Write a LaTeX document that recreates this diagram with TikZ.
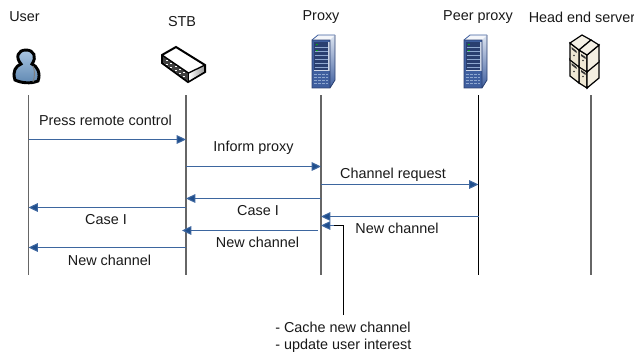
\documentclass[tikz,border=0pt]{standalone}
\usepackage{fontspec}
\setmainfont{Liberation Sans}
\usetikzlibrary{arrows.meta}
\definecolor{arrowblue}{HTML}{3D669F}
\definecolor{headblue}{HTML}{1F4E8C}
\definecolor{srvblue}{HTML}{3F5F9F}
\definecolor{srvdark}{HTML}{2A3F70}
\definecolor{srvlight}{HTML}{8FA8D0}
\definecolor{usrblue}{HTML}{6F9FD0}
\definecolor{beige}{HTML}{EFE8D4}
\tikzset{
  lab/.style={font=\fontsize{10.8pt}{13pt}\selectfont,inner sep=0pt,text=black!90},
  life/.style={draw=black!60,line width=0.85pt},
  lifeb/.style={draw=black,line width=0.75pt},
  msg/.style={draw=arrowblue,line width=0.8pt,-{Triangle[length=7pt,width=6.5pt,fill=headblue]}},
}
\newcommand{\srv}[2]{%
 \begin{scope}[shift={(#1,#2)}]
  \fill[white!90!srvlight] (1,6) -- (7,1) -- (24,1) -- (19,6) -- cycle;
  \draw[srvblue,line width=.6pt] (1,6) -- (7,1) -- (24,1);
  \shade[top color=white!70!srvlight,bottom color=srvblue] (19,6) -- (24,1) -- (24,46) -- (19,54) -- cycle;
  \fill[srvblue] (1,6) rectangle (19,54);
  \fill[srvdark] (3,8) rectangle (17,36);
  \foreach \yy in {13,17,21,25,29,33} \draw[srvlight,line width=.6pt] (3.5,\yy) -- (16.5,\yy);
  \fill[green!70!black] (5,10) rectangle (6.5,11.2) (5,16) rectangle (6.5,17.2);
  \draw[white!75!srvblue,line width=.8pt] (3,36.5) -- (18,36.5) (18,8) -- (18,36.5);
  \foreach \yy in {40,43,46,49} \draw[srvlight,line width=.6pt,dash pattern=on 2pt off 1pt] (3,\yy) -- (17,\yy);
  \draw[srvdark,line width=.6pt] (1,6) rectangle (19,54) (19,54) -- (24,46) -- (24,1);
 \end{scope}}
\newcommand{\crate}[1]{%
 \begin{scope}[shift={(0,#1)}]
  \draw[black,line width=.9pt,fill=beige] (579,50) -- (587,55) -- (587,72) -- (579,67) -- cycle;
  \draw[black,line width=.9pt,fill=beige!70!white] (587,55) -- (599,45) -- (599,62) -- (587,72) -- cycle;
  \draw[black,line width=.9pt,fill=beige] (570,43) -- (579,50) -- (579,67) -- (570,60) -- cycle;
  \fill[black!80] (571.5,47) -- (576.5,51) -- (576.5,53) -- (571.5,49) -- cycle;
  \fill[black!80] (581,54) -- (585.5,57) -- (585.5,59) -- (581,56) -- cycle;
  \fill[black!80] (574,55.5) circle (.9) (583,60.5) circle (.9);
 \end{scope}}
\begin{document}
\begin{tikzpicture}[x=0.75pt,y=-0.75pt]
\useasboundingbox (0,0) rectangle (634,354);
% labels
\node[lab] (tUser) at (24.5,17) {User};
\node[lab] (tSTB) at (182,22) {STB};
\node[lab] (tProxy) at (321,17) {Proxy};
\node[lab] (tPeer) at (478,17) {Peer proxy};
\node[lab,anchor=west] (tHead) at (528.5,17) {Head end server};
% user icon
\draw[black,line width=2.2pt,top color=usrblue!60!white,bottom color=usrblue!85!black] (15,80) .. controls (12,71) and (16,66) .. (21,64) .. controls (15,57) and (18,50) .. (26,50) .. controls (34,50) and (37,57) .. (32,64) .. controls (37,66) and (41,73) .. (38,81) .. controls (31,84) and (21,83) .. (15,80) -- cycle;
\draw[black!50,line width=.7pt] (33,66) .. controls (35,71) and (35,76) .. (33,82);
% STB icon
\draw[black,line width=1.5pt,fill=white] (162,55) -- (176,47) -- (205,65) -- (205,72) -- (188,82) -- (162,63) -- cycle;
\shade[left color=white,right color=black!40] (189,74) -- (204,65.5) -- (204,71.5) -- (189,80.5) -- cycle;
\fill[black!75] (163,56) -- (188,73) -- (188,81) -- (163,62.5) -- cycle;
\draw[black,line width=1pt] (162,55) -- (188.5,73) -- (205,65);
\draw[black,line width=1pt] (188.5,73) -- (188.5,82);
\foreach \i in {0,1,2,3,4} {
  \fill[white] ({166+\i*4.3},{59.5+\i*3}) rectangle +(2,1.3);
  \fill[white] ({166+\i*4.3},{63.5+\i*3}) rectangle +(2,1.3);
}
% servers
\srv{311}{34}
\srv{463}{34}
% head end server icon
\crate{16}
\crate{0}
\draw[black,line width=.9pt,fill=beige!60!white] (570,43) -- (582,35) -- (591,40) -- (579,50) -- cycle;
\draw[black,line width=.9pt,fill=beige!60!white] (579,50) -- (591,40) -- (599,45) -- (587,55) -- cycle;
% lifelines
\coordinate (u0) at (28.5,95); \coordinate (u1) at (28.5,275);
\coordinate (s0) at (186,95); \coordinate (s1) at (186,275);
\coordinate (p0) at (321,95); \coordinate (p1) at (321,275);
\coordinate (r0) at (478.5,95); \coordinate (r1) at (478.5,275);
\coordinate (h0) at (591,95); \coordinate (h1) at (591,275);
\draw[life] (u0) -- (u1);
\draw[life] (s0) -- (s1);
\draw[life] (p0) -- (p1);
\draw[lifeb] (r0) -- (r1);
\draw[life] (h0) -- (h1);
% messages
\coordinate (a1) at (28.5,139.5); \coordinate (a2) at (186,139.5);
\draw[msg] (a1) -- (a2);
\coordinate (b1) at (186,166.5); \coordinate (b2) at (321,166.5);
\draw[msg] (b1) -- (b2);
\coordinate (c1) at (321,184.5); \coordinate (c2) at (478.5,184.5);
\draw[msg] (c1) -- (c2);
\coordinate (d1) at (321,198.5); \coordinate (d2) at (186,198.5);
\draw[msg] (d1) -- (d2);
\coordinate (e1) at (186,207.5); \coordinate (e2) at (28.5,207.5);
\draw[msg] (e1) -- (e2);
\coordinate (f1) at (478.5,216.5); \coordinate (f2) at (321,216.5);
\draw[msg] (f1) -- (f2);
\coordinate (g1) at (318,230.5); \coordinate (g2) at (182,230.5);
\draw[msg] (g1) -- (g2);
\coordinate (i1) at (186,247.5); \coordinate (i2) at (28.5,247.5);
\draw[msg] (i1) -- (i2);
% annotation connector
\coordinate (n0) at (343.5,315); \coordinate (n1) at (343.5,225.5); \coordinate (n2) at (321,225.5);
\draw[msg] (n1) -- (n2);
\draw[black,line width=0.75pt] (n0) -- (n1) -- (334,225.5);
% message labels
\node[lab] (l1) at (105.5,120.5) {Press remote control};
\node[lab] (l2) at (253.5,147.5) {Inform proxy};
\node[lab] (l3) at (393,174.5) {Channel request};
\node[lab] (l4) at (258,210.5) {Case I};
\node[lab] (l5) at (106,219.5) {Case I};
\node[lab] (l6) at (397,228.5) {New channel};
\node[lab] (l7) at (257.5,242.5) {New channel};
\node[lab] (l8) at (109.5,260.5) {New channel};
\node[lab,anchor=west] (l9) at (275,327.5) {- Cache new channel};
\node[lab,anchor=west] (l10) at (275,345.5) {- update user interest};
\end{tikzpicture}
\end{document}
